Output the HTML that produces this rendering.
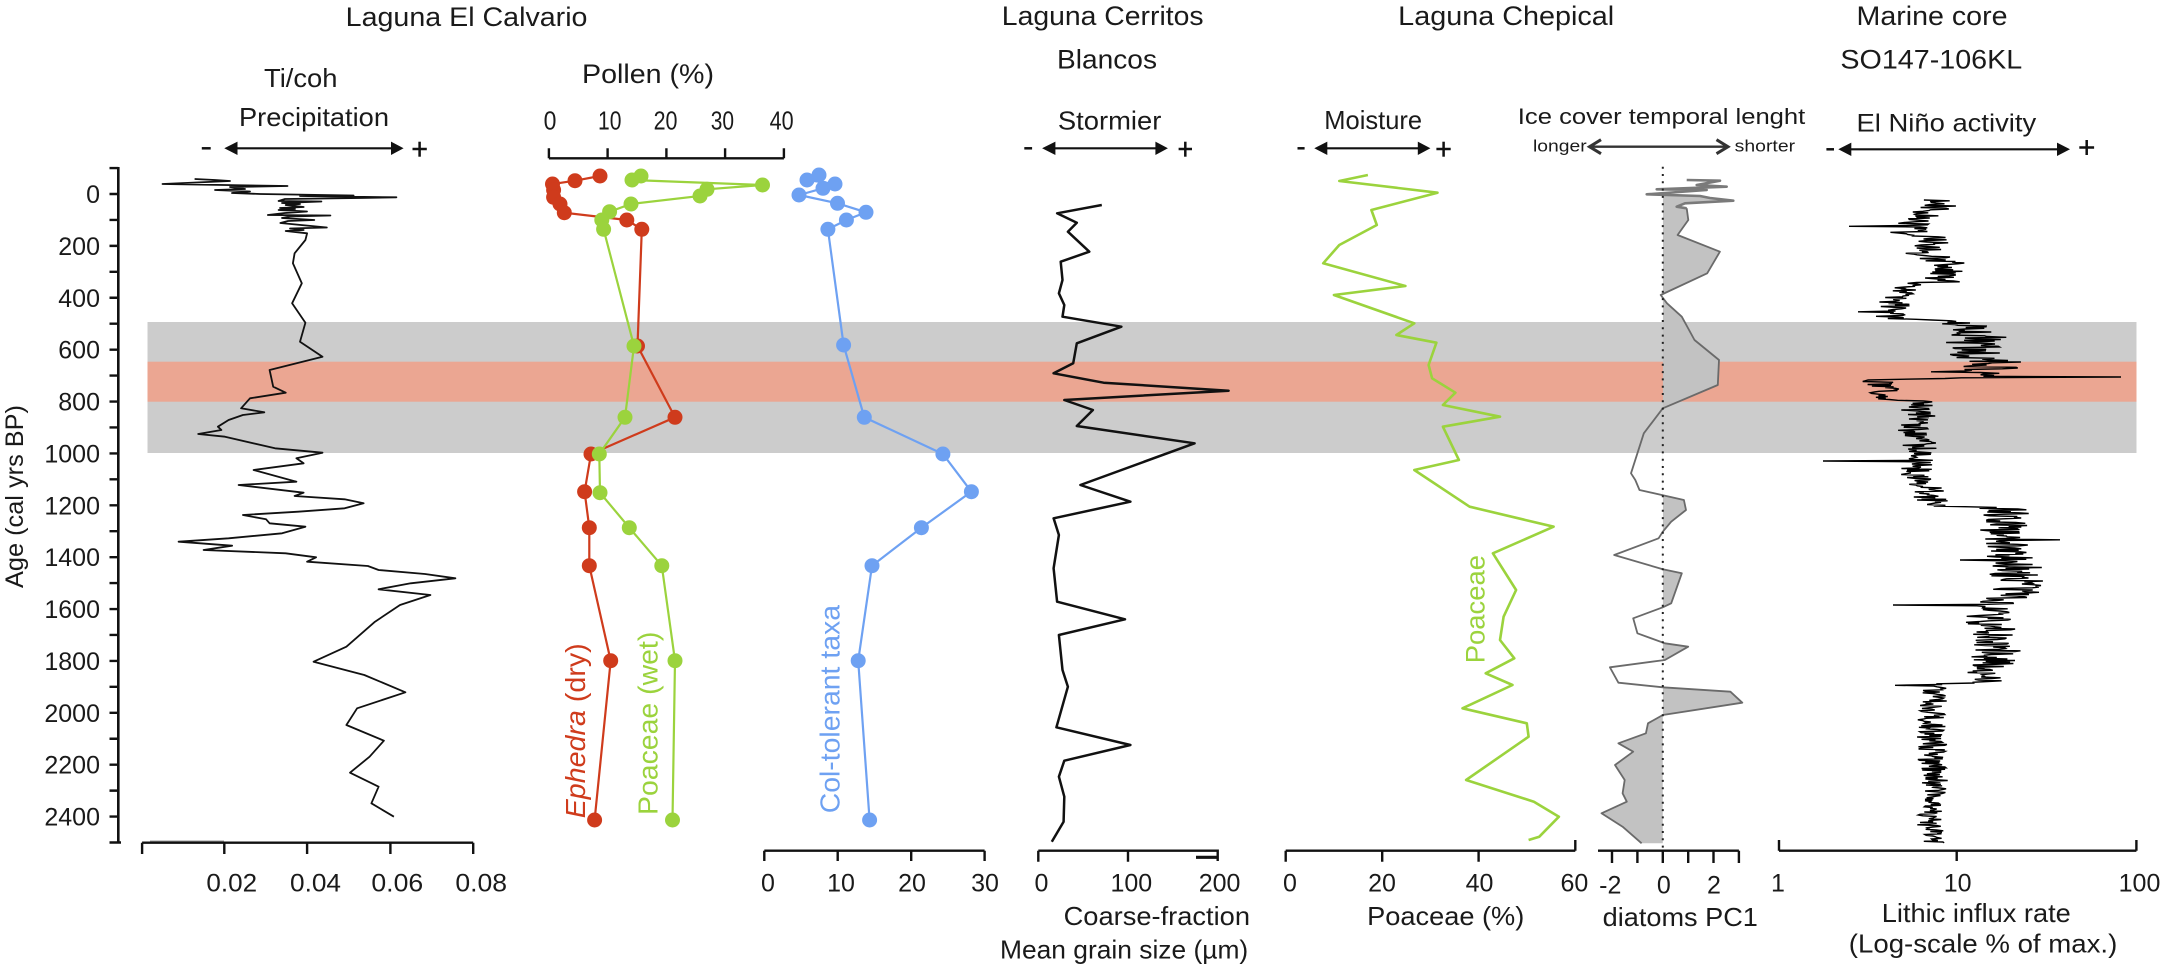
<!DOCTYPE html>
<html>
<head>
<meta charset="utf-8">
<style>
html,body{margin:0;padding:0;background:#fff;}
svg{display:block;}
text{font-family:"Liberation Sans",Arial,sans-serif;fill:#1a1a1a;}
</style>
</head>
<body>
<svg id="chart" xmlns="http://www.w3.org/2000/svg" width="2163" height="966" viewBox="0 0 2163 966">
<defs>
<clipPath id="posclip"><rect x="1662.8" y="150" width="200" height="720"/></clipPath>
</defs>
<rect x="0" y="0" width="2163" height="966" fill="#fff"/>

<!-- bands -->
<rect x="147.5" y="322" width="1989" height="131" fill="#cccccc"/>
<rect x="147.5" y="361.7" width="1989" height="40" fill="#eba692"/>

<!-- ===== Titles ===== -->
<text x="345.7" y="26" font-size="27" textLength="241.8" lengthAdjust="spacingAndGlyphs">Laguna El Calvario</text>
<text x="264" y="87" font-size="26" textLength="73.5" lengthAdjust="spacingAndGlyphs">Ti/coh</text>
<text x="239" y="126" font-size="26" textLength="150" lengthAdjust="spacingAndGlyphs">Precipitation</text>
<text x="582" y="83" font-size="27" textLength="132" lengthAdjust="spacingAndGlyphs">Pollen (%)</text>
<text x="1001.8" y="25" font-size="27" textLength="201.8" lengthAdjust="spacingAndGlyphs">Laguna Cerritos</text>
<text x="1057" y="68.3" font-size="27" textLength="100" lengthAdjust="spacingAndGlyphs">Blancos</text>
<text x="1057.9" y="129.3" font-size="26" textLength="103.5" lengthAdjust="spacingAndGlyphs">Stormier</text>
<text x="1398.2" y="25" font-size="27" textLength="216" lengthAdjust="spacingAndGlyphs">Laguna Chepical</text>
<text x="1324.3" y="129" font-size="26" textLength="97.8" lengthAdjust="spacingAndGlyphs">Moisture</text>
<text x="1517.8" y="124" font-size="22" textLength="287.5" lengthAdjust="spacingAndGlyphs">Ice cover temporal lenght</text>
<text x="1533" y="151.7" font-size="17" textLength="53.7" lengthAdjust="spacingAndGlyphs">longer</text>
<text x="1734.7" y="151.7" font-size="17" textLength="60.4" lengthAdjust="spacingAndGlyphs">shorter</text>
<text x="1856.5" y="25" font-size="27" textLength="151" lengthAdjust="spacingAndGlyphs">Marine core</text>
<text x="1840.4" y="68.3" font-size="27" textLength="181.8" lengthAdjust="spacingAndGlyphs">SO147-106KL</text>
<text x="1856.5" y="131.7" font-size="25" textLength="179.7" lengthAdjust="spacingAndGlyphs">El Niño activity</text>

<!-- ===== direction arrows ===== -->
<g stroke="#111" stroke-width="2.2" fill="#111">
  <!-- Ti/coh -->
  <line x1="201.8" y1="148.3" x2="210.7" y2="148.3" stroke-width="2.5"/>
  <line x1="232" y1="148.3" x2="396" y2="148.3"/>
  <polygon points="224.3,148.3 237.5,141.6 237.5,155" stroke="none"/>
  <polygon points="403.6,148.3 391,141.6 391,155" stroke="none"/>
  <line x1="412.5" y1="149" x2="426.8" y2="149" stroke-width="2.5"/>
  <line x1="419.6" y1="141.7" x2="419.6" y2="156.7" stroke-width="2.5"/>
  <!-- Cerritos -->
  <line x1="1024.3" y1="148.3" x2="1032.1" y2="148.3" stroke-width="2.5"/>
  <line x1="1050" y1="148.3" x2="1160" y2="148.3"/>
  <polygon points="1042.1,148.3 1055.4,141.6 1055.4,155" stroke="none"/>
  <polygon points="1167.9,148.3 1155.4,141.6 1155.4,155" stroke="none"/>
  <line x1="1178.6" y1="149" x2="1192" y2="149" stroke-width="2.5"/>
  <line x1="1185.3" y1="141.7" x2="1185.3" y2="156.7" stroke-width="2.5"/>
  <!-- Chepical -->
  <line x1="1297.5" y1="148.3" x2="1304.6" y2="148.3" stroke-width="2.5"/>
  <line x1="1322" y1="148.3" x2="1423" y2="148.3"/>
  <polygon points="1314.3,148.3 1327.3,141.6 1327.3,155" stroke="none"/>
  <polygon points="1430.4,148.3 1417.8,141.6 1417.8,155" stroke="none"/>
  <line x1="1436.4" y1="149" x2="1450.7" y2="149" stroke-width="2.5"/>
  <line x1="1443.6" y1="141.7" x2="1443.6" y2="156.7" stroke-width="2.5"/>
  <!-- Marine -->
  <line x1="1826.4" y1="149.3" x2="1834" y2="149.3" stroke-width="2.5"/>
  <line x1="1846" y1="149.3" x2="2063" y2="149.3"/>
  <polygon points="1838.3,149.3 1851.3,142.6 1851.3,156" stroke="none"/>
  <polygon points="2070,149.3 2057,142.6 2057,156" stroke="none"/>
  <line x1="2079.3" y1="147.5" x2="2094.1" y2="147.5" stroke-width="2.5"/>
  <line x1="2086.7" y1="140" x2="2086.7" y2="155" stroke-width="2.5"/>
</g>
<!-- ice cover double arrow -->
<g stroke="#333" fill="none" stroke-width="2.4">
  <line x1="1590" y1="146.7" x2="1727" y2="146.7"/>
  <polyline points="1601,139.7 1589.5,146.7 1601,153.7" stroke-width="3"/>
  <polyline points="1716.5,139.7 1728,146.7 1716.5,153.7" stroke-width="3"/>
</g>

<!-- ===== Y axis ===== -->
<line x1="118.3" y1="167" x2="118.3" y2="843.5" stroke="#111" stroke-width="2.6"/>
<path stroke="#111" stroke-width="2.4" fill="none" d="
M109.5,168.06H118.3 M109.5,194H118.3 M109.5,219.94H118.3 M109.5,245.88H118.3 M109.5,271.82H118.3 M109.5,297.76H118.3
M109.5,323.7H118.3 M109.5,349.64H118.3 M109.5,375.58H118.3 M109.5,401.52H118.3 M109.5,427.46H118.3 M109.5,453.4H118.3
M109.5,479.34H118.3 M109.5,505.28H118.3 M109.5,531.22H118.3 M109.5,557.16H118.3 M109.5,583.1H118.3 M109.5,609.04H118.3
M109.5,634.98H118.3 M109.5,660.92H118.3 M109.5,686.86H118.3 M109.5,712.8H118.3 M109.5,738.74H118.3 M109.5,764.68H118.3
M109.5,790.62H118.3 M109.5,816.56H118.3 M109.5,842.5H121"/>
<g font-size="25" text-anchor="end">
<text x="100" y="203">0</text>
<text x="100" y="254.9">200</text>
<text x="100" y="306.8">400</text>
<text x="100" y="358.6">600</text>
<text x="100" y="410.5">800</text>
<text x="100" y="462.4">1000</text>
<text x="100" y="514.3">1200</text>
<text x="100" y="566.2">1400</text>
<text x="100" y="618">1600</text>
<text x="100" y="669.9">1800</text>
<text x="100" y="721.8">2000</text>
<text x="100" y="773.7">2200</text>
<text x="100" y="825.6">2400</text>
</g>
<text transform="translate(23,496.5) rotate(-90)" font-size="25" text-anchor="middle" textLength="183" lengthAdjust="spacingAndGlyphs">Age (cal yrs BP)</text>

<!-- ===== Ti/coh trace ===== -->
<path fill="none" stroke="#111" stroke-width="1.8" stroke-linejoin="round" d="M194.6,179 L215,180 L230,181 L162.5,184 L287.5,186 L230,187 L245,189 L215,190 L250,191.5 L232,193 L260,194 L353.6,195.5 L300,196 L396.4,197.3 L360,198 L285,199 L278.6,201 L321.4,201.5 L282,203 L300,204 L285.7,205 L303.6,207 L280,208 L295,209 L278.6,210 L307,211.5 L285,213 L267.9,215 L330.4,215.5 L290,216.5 L282,218 L314.3,220 L288,221 L280.4,223 L326.8,227.5 L290,228.5 L303.6,230 L285.7,231 L307.1,233.3 L305.4,240 L294.6,253.3 L292.9,263.3 L301.8,283.3 L292.1,303.3 L305.4,322.7 L300,341.7 L322.5,356.7 L269.6,370 L273.2,386.7 L285.7,392.7 L250,398.3 L241.1,408.3 L264.3,412.3 L242.9,415 L228.6,420 L217.9,426.7 L221.4,430 L198.2,434 L225,436.7 L275,448.3 L322.5,452.7 L296.4,458.3 L303.6,463.3 L253.6,470 L296.4,481.7 L238.6,485 L303.6,492.7 L294.6,496 L344.6,499.3 L363.6,503.3 L344.6,508.3 L298.2,511.7 L242.9,515 L266.1,519.3 L269.6,523.3 L305.4,526.7 L282.1,533.3 L228.6,538.3 L178.6,541.7 L232.1,545.7 L203.6,550 L285.7,553.3 L316.1,557.3 L307.1,561.7 L367.9,566 L378.6,570 L425,574 L455.4,578.3 L410.7,583.3 L378.6,589.3 L430.4,595 L400,605 L375,621.7 L346.4,646.7 L313.6,661.7 L364.3,675 L405.4,692.3 L357.1,708.3 L346.4,725 L383.9,740.7 L369.6,756.7 L350,772.7 L378.6,786.7 L371.4,803.3 L393.9,816.7"/>

<!-- Ti/coh x axis -->
<g stroke="#111" stroke-width="2.4">
  <line x1="142.1" y1="842.7" x2="473.2" y2="842.7"/>
  <path d="M142.1,842.7V854 M224.3,842.7V854 M307.1,842.7V854 M390.4,842.7V854 M473.2,842.7V854" fill="none"/>
</g>
<line x1="150" y1="841" x2="224" y2="841" stroke="#999" stroke-width="1"/>
<g font-size="25">
<text x="206.4" y="891.7" textLength="50.7" lengthAdjust="spacingAndGlyphs">0.02</text>
<text x="290" y="891.7" textLength="51" lengthAdjust="spacingAndGlyphs">0.04</text>
<text x="371.4" y="891.7" textLength="51.8" lengthAdjust="spacingAndGlyphs">0.06</text>
<text x="455.4" y="891.7" textLength="51.7" lengthAdjust="spacingAndGlyphs">0.08</text>
</g>

<!-- ===== Pollen ===== -->
<g stroke="#111" stroke-width="2.4" fill="none">
  <line x1="548.9" y1="158.3" x2="783.9" y2="158.3"/>
  <path d="M548.9,158.3V148.3 M607.6,158.3V148.3 M666.4,158.3V148.3 M725.1,158.3V148.3 M783.9,158.3V148.3"/>
</g>
<g font-size="26">
<text x="543.6" y="129.3" textLength="12.8" lengthAdjust="spacingAndGlyphs">0</text>
<text x="598" y="129.3" textLength="23.4" lengthAdjust="spacingAndGlyphs">10</text>
<text x="653.6" y="129.3" textLength="23.9" lengthAdjust="spacingAndGlyphs">20</text>
<text x="710.7" y="129.3" textLength="23.3" lengthAdjust="spacingAndGlyphs">30</text>
<text x="769.6" y="129.3" textLength="24" lengthAdjust="spacingAndGlyphs">40</text>
</g>

<!-- red Ephedra -->
<g fill="#cf3b1c" stroke="none">
<polyline fill="none" stroke="#cf3b1c" stroke-width="2.2" points="600,176 575,180.7 552.5,184 553.6,190 553.6,197.3 560,204 564.3,212.7 626.8,220 641.8,229.3 637.5,346 675,417.3 591,454 584.6,491.7 589.3,527.7 589.3,565.7 610.7,660.7 594.6,820"/>
<circle cx="600" cy="176" r="7.5"/><circle cx="575" cy="180.7" r="7.5"/><circle cx="552.5" cy="184" r="7.5"/><circle cx="553.6" cy="190" r="7.5"/><circle cx="553.6" cy="197.3" r="7.5"/><circle cx="560" cy="204" r="7.5"/><circle cx="564.3" cy="212.7" r="7.5"/><circle cx="626.8" cy="220" r="7.5"/><circle cx="641.8" cy="229.3" r="7.5"/><circle cx="637.5" cy="346" r="7.5"/><circle cx="675" cy="417.3" r="7.5"/><circle cx="591" cy="454" r="7.5"/><circle cx="584.6" cy="491.7" r="7.5"/><circle cx="589.3" cy="527.7" r="7.5"/><circle cx="589.3" cy="565.7" r="7.5"/><circle cx="610.7" cy="660.7" r="7.5"/><circle cx="594.6" cy="820" r="7.5"/>
</g>
<!-- green Poaceae -->
<g fill="#9bd33d" stroke="none">
<polyline fill="none" stroke="#9bd33d" stroke-width="2.2" points="641,176 632,180 762.5,185 707,189.3 700,196 631,204 609.6,211.7 601.8,220 603.6,229.3 634,346 625,417.3 599.3,454 600,492.7 629.3,527.7 661.8,565.7 675,660.7 672.5,820"/>
<circle cx="641" cy="176" r="7.5"/><circle cx="632" cy="180" r="7.5"/><circle cx="762.5" cy="185" r="7.5"/><circle cx="707" cy="189.3" r="7.5"/><circle cx="700" cy="196" r="7.5"/><circle cx="631" cy="204" r="7.5"/><circle cx="609.6" cy="211.7" r="7.5"/><circle cx="601.8" cy="220" r="7.5"/><circle cx="603.6" cy="229.3" r="7.5"/><circle cx="634" cy="346" r="7.5"/><circle cx="625" cy="417.3" r="7.5"/><circle cx="599.3" cy="454" r="7.5"/><circle cx="600" cy="492.7" r="7.5"/><circle cx="629.3" cy="527.7" r="7.5"/><circle cx="661.8" cy="565.7" r="7.5"/><circle cx="675" cy="660.7" r="7.5"/><circle cx="672.5" cy="820" r="7.5"/>
</g>
<!-- blue Col-tolerant -->
<g fill="#6ea1f2" stroke="none">
<polyline fill="none" stroke="#6ea1f2" stroke-width="2.2" points="819,175 807,180 835,184 823,188.3 799,195 837.5,203.3 866,212.3 846.4,220 827.9,229.3 843.6,345 864.3,417.3 942.9,454 971.4,491.7 921.4,527.7 872,565.7 858.2,660.7 869.6,820"/>
<circle cx="819" cy="175" r="7.5"/><circle cx="807" cy="180" r="7.5"/><circle cx="835" cy="184" r="7.5"/><circle cx="823" cy="188.3" r="7.5"/><circle cx="799" cy="195" r="7.5"/><circle cx="837.5" cy="203.3" r="7.5"/><circle cx="866" cy="212.3" r="7.5"/><circle cx="846.4" cy="220" r="7.5"/><circle cx="827.9" cy="229.3" r="7.5"/><circle cx="843.6" cy="345" r="7.5"/><circle cx="864.3" cy="417.3" r="7.5"/><circle cx="942.9" cy="454" r="7.5"/><circle cx="971.4" cy="491.7" r="7.5"/><circle cx="921.4" cy="527.7" r="7.5"/><circle cx="872" cy="565.7" r="7.5"/><circle cx="858.2" cy="660.7" r="7.5"/><circle cx="869.6" cy="820" r="7.5"/>
</g>

<text transform="translate(585,818.3) rotate(-90)" font-size="28" fill="#cf3b1c" style="fill:#cf3b1c" textLength="175" lengthAdjust="spacingAndGlyphs"><tspan font-style="italic" style="fill:#cf3b1c">Ephedra</tspan><tspan style="fill:#cf3b1c"> (dry)</tspan></text>
<text transform="translate(657.5,815) rotate(-90)" font-size="28" style="fill:#9bd33d" textLength="183.3" lengthAdjust="spacingAndGlyphs">Poaceae (wet)</text>
<text transform="translate(839.5,813.3) rotate(-90)" font-size="28" style="fill:#6ea1f2" textLength="208.3" lengthAdjust="spacingAndGlyphs">Col-tolerant taxa</text>

<!-- blue axis -->
<g stroke="#111" stroke-width="2.4" fill="none">
  <line x1="764.3" y1="850.7" x2="984.6" y2="850.7"/>
  <path d="M764.3,850.7V861 M837.7,850.7V861 M911.2,850.7V861 M984.6,850.7V861"/>
</g>
<g font-size="25" text-anchor="middle">
<text x="768" y="891.7">0</text>
<text x="841" y="891.7">10</text>
<text x="912" y="891.7">20</text>
<text x="985" y="891.7">30</text>
</g>

<!-- ===== Cerritos ===== -->
<polyline fill="none" stroke="#111" stroke-width="2.5" stroke-linejoin="round" points="1101.8,205 1057.1,213.3 1076.8,222.7 1067.9,231.7 1089.3,251.7 1060.7,261.7 1062.5,280 1058.9,293.3 1064.3,305 1062.5,316.7 1121.4,326.7 1076.8,343.3 1075,353.3 1073.2,363.3 1053.6,373.3 1103.6,382.7 1228.6,390.7 1064.3,400 1092.9,410 1076.8,426 1194.6,443.3 1080.4,485 1130.4,501.7 1053.6,518.3 1058.9,535 1053.6,568.3 1057.1,601.7 1125,619.3 1058.9,635 1062.5,670 1067.9,686.7 1056.4,727.3 1130.4,745 1064.3,760.7 1058.9,776.7 1064.3,796.7 1063.6,821.7 1051.8,841.7"/>
<g stroke="#111" stroke-width="2.4" fill="none">
  <line x1="1038.3" y1="850.7" x2="1217.7" y2="850.7"/>
  <path d="M1038.3,850.7V861.7 M1128,850.7V861.7 M1217.7,849.5V861"/>
  <line x1="1196" y1="857.3" x2="1217.7" y2="857.3" stroke-width="3.2"/>
</g>
<g font-size="25" text-anchor="middle">
<text x="1041.4" y="891.7">0</text>
<text x="1131.3" y="891.7">100</text>
<text x="1219.6" y="891.7">200</text>
</g>
<text x="1063.6" y="925" font-size="26" textLength="186.4" lengthAdjust="spacingAndGlyphs">Coarse-fraction</text>
<text x="1000" y="958.3" font-size="26" textLength="248.2" lengthAdjust="spacingAndGlyphs">Mean grain size (µm)</text>

<!-- ===== Chepical ===== -->
<polyline fill="none" stroke="#9bd33d" stroke-width="2.6" stroke-linejoin="round" points="1367.9,175 1339.3,181 1437.5,192.7 1371.4,210 1376.8,225 1339.3,245 1323.2,263.3 1405.4,286 1333.9,295 1414.3,323.3 1396.4,335 1436.4,342.7 1428.6,365 1432.1,378.3 1455.4,392.7 1442.9,405 1500,416.7 1442.9,426.7 1458.9,460 1414.3,470 1469.6,506.7 1553.6,526.7 1492.9,553.3 1516.1,590 1503.6,616.7 1500,640 1514.3,658.3 1485.7,673.3 1512.5,685 1462.5,708.3 1526.8,723.3 1528.6,736.7 1466.1,780 1533.9,801.7 1558.9,816.7 1539.3,836.7 1528.6,840"/>
<text transform="translate(1484.5,663.3) rotate(-90)" font-size="27" style="fill:#9bd33d" textLength="108.3" lengthAdjust="spacingAndGlyphs">Poaceae</text>
<g stroke="#111" stroke-width="2.4" fill="none">
  <line x1="1285.7" y1="850.7" x2="1575.3" y2="850.7"/>
  <path d="M1285.7,850.7V861.7 M1382.2,850.7V861.7 M1478.6,850.7V861.7 M1575.3,850.7V840"/>
</g>
<g font-size="25" text-anchor="middle">
<text x="1290" y="891.7">0</text>
<text x="1382" y="891.7">20</text>
<text x="1479.5" y="891.7">40</text>
<text x="1574.4" y="891.7">60</text>
</g>
<text x="1367.1" y="925" font-size="26" textLength="157.2" lengthAdjust="spacingAndGlyphs">Poaceae (%)</text>

<!-- ===== Diatoms ===== -->
<polygon clip-path="url(#posclip)" fill="#c2c2c2" stroke="none" points="1662.8,194 1646.7,194.3 1700,196 1710,198 1733.3,200.7 1685,203.3 1676.7,206.7 1686.7,208.3 1688.3,220 1677.6,235 1719.9,251.7 1707.2,273.3 1660.7,295 1667,303.3 1681.8,316.7 1694.5,340 1719,360 1717.8,385 1662.8,408.3 1643.8,433.3 1631,473.3 1635.3,480 1639.5,490 1683.9,500 1686,510 1671.2,521.7 1662.8,531.7 1658.6,538.3 1614.2,555 1662.8,569.3 1681.8,573.3 1671.2,603.3 1662.8,607.3 1633.2,618.3 1637.4,633.3 1664.9,643.3 1688.2,646.7 1664.9,660 1609.9,667.3 1618.4,682.7 1662.8,687.3 1730.4,691.7 1742.3,702.7 1662.8,715"/>
<polygon fill="#c2c2c2" stroke="none" points="1662.8,715 1648,723.3 1645.9,733.3 1618.4,743.3 1633.2,751.7 1615,765 1624.7,780 1622.6,793.3 1626.8,801.7 1601.5,813.3 1622.6,826.7 1641.6,843.3 1662.8,843.3"/>
<polyline fill="none" stroke="#7a7a7a" stroke-width="2.6" stroke-linejoin="round" points="1686.7,180 1720,180.7 1696.7,185 1726.7,186.7 1656.7,189.3 1706.7,190 1646.7,194.3 1700,196 1710,198 1733.3,200.7 1685,203.3 1676.7,206.7 1686.7,208.3"/>
<polyline fill="none" stroke="#6a6a6a" stroke-width="1.8" stroke-linejoin="round" points="1686.7,208.3 1688.3,220 1677.6,235 1719.9,251.7 1707.2,273.3 1660.7,295 1667,303.3 1681.8,316.7 1694.5,340 1719,360 1717.8,385 1662.8,408.3 1643.8,433.3 1631,473.3 1635.3,480 1639.5,490 1683.9,500 1686,510 1671.2,521.7 1662.8,531.7 1658.6,538.3 1614.2,555 1662.8,569.3 1681.8,573.3 1671.2,603.3 1662.8,607.3 1633.2,618.3 1637.4,633.3 1664.9,643.3 1688.2,646.7 1664.9,660 1609.9,667.3 1618.4,682.7 1662.8,687.3 1730.4,691.7 1742.3,702.7 1662.8,715 1648,723.3 1645.9,733.3 1618.4,743.3 1633.2,751.7 1615,765 1624.7,780 1622.6,793.3 1626.8,801.7 1601.5,813.3 1622.6,826.7 1641.6,843.3"/>
<line x1="1662.8" y1="166.7" x2="1662.8" y2="850" stroke="#222" stroke-width="2" stroke-dasharray="2,5.3"/>
<g stroke="#111" stroke-width="2.4" fill="none">
  <line x1="1598" y1="850.7" x2="1738.9" y2="850.7"/>
  <path d="M1612,850.7V863 M1637.4,850.7V863 M1662.8,850.7V863 M1688.2,850.7V863 M1713.5,850.7V863 M1738.9,850.7V863"/>
</g>
<g font-size="25" text-anchor="middle">
<text x="1610.3" y="893.3">-2</text>
<text x="1663.8" y="893.3">0</text>
<text x="1714" y="893.3">2</text>
</g>
<text x="1602.7" y="926" font-size="26" textLength="155.2" lengthAdjust="spacingAndGlyphs">diatoms PC1</text>

<!-- ===== Marine ===== -->
<g id="marine"></g>
<g stroke="#111" stroke-width="2.4" fill="none">
  <line x1="1779" y1="850.7" x2="2136.4" y2="850.7"/>
  <path d="M1779,850.7V840 M1956.7,850.7V861 M2136.4,850.7V840"/>
</g>
<g font-size="25" text-anchor="middle">
<text x="1778" y="891.7">1</text>
<text x="1957.7" y="891.7">10</text>
<text x="2139.5" y="891.7">100</text>
</g>
<text x="1881.8" y="922" font-size="26" textLength="189" lengthAdjust="spacingAndGlyphs">Lithic influx rate</text>
<text x="1848.8" y="952.7" font-size="26" textLength="268.5" lengthAdjust="spacingAndGlyphs">(Log-scale % of max.)</text>
</svg>
<script>
(function(){
  var s = 987654321;
  function rnd(){ s |= 0; s = s + 0x6D2B79F5 | 0; var t = Math.imul(s ^ s >>> 15, 1 | s); t = t + Math.imul(t ^ t >>> 7, 61 | t) ^ t; return ((t ^ t >>> 14) >>> 0) / 4294967296; }
  var env=[[200,1935,24],[214,1935,27],[218,1918,32],[232,1918,32],[236,1935,30],[262,1945,32],[270,1958,28],[282,1935,28],[286,1898,22],[318,1897,24],[323,1972,36],[358,1980,36],[362,1998,38],[377,1995,38],[380,1882,22],[398,1886,22],[402,1918,22],[478,1918,22],[484,1925,25],[505,1932,25],[509,2010,32],[595,2012,32],[600,1993,33],[680,1990,32],[686,1932,20],[843,1932,16]];
  function interp(y){
    for(var i=0;i<env.length-1;i++){
      if(y>=env[i][0]&&y<=env[i+1][0]){var t=(y-env[i][0])/(env[i+1][0]-env[i][0]);return [env[i][1]+t*(env[i+1][1]-env[i][1]),env[i][2]+t*(env[i+1][2]-env[i][2])];}
    }
    return [env[env.length-1][1],env[env.length-1][2]];
  }
  var spikes=[[226,1849],[312,1858],[372,1931],[376.7,2121],[461,1823],[605,1893],[685,1895],[540,2060],[560,1960]];
  var d='', w=0, first=true;
  for(var y=200;y<=843;y+=0.75){
    var e=interp(y);
    w=0.92*w+0.08*(rnd()*2-1);
    var v=(rnd()*2-1);
    var x=e[0]+e[1]*(0.75*v+1.2*w);
    for(var k=0;k<spikes.length;k++){ if(Math.abs(spikes[k][0]-y)<0.38){ x=spikes[k][1]; } }
    d+=(first?'M':'L')+x.toFixed(1)+','+y.toFixed(1)+' ';
    first=false;
  }
  var p=document.createElementNS('http://www.w3.org/2000/svg','path');
  p.setAttribute('d',d);
  p.setAttribute('fill','none');
  p.setAttribute('stroke','#000');
  p.setAttribute('stroke-width','1.4');
  p.setAttribute('stroke-linejoin','miter');
  document.getElementById('marine').appendChild(p);
})();
</script>
</body>
</html>
